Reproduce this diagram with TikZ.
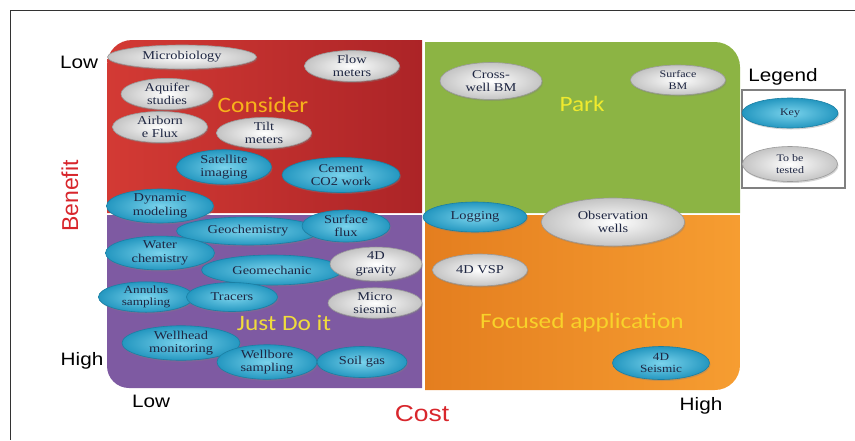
\documentclass[tikz,border=0pt]{standalone}
\usepackage{fontspec}
\usepackage{xcolor}
\usepackage{tikz}
\usetikzlibrary{shapes.geometric,shadows}
\setmainfont{Liberation Serif}
\newfontfamily\ovalfont[FakeStretch=1.2]{Liberation Serif}
\newfontfamily\axisfont[FakeStretch=1.15]{Liberation Sans}
\newfontfamily\axisplain{Liberation Sans}
\newfontfamily\zonefont[FakeStretch=1.15]{Carlito}
\definecolor{CD33A34}{HTML}{D33A34}
\definecolor{CAC2427}{HTML}{AC2427}
\definecolor{C8CB444}{HTML}{8CB444}
\definecolor{C7E5AA2}{HTML}{7E5AA2}
\definecolor{CE47E1F}{HTML}{E47E1F}
\definecolor{CF69D31}{HTML}{F69D31}
\definecolor{C7AD3EC}{HTML}{7AD3EC}
\definecolor{C2497C0}{HTML}{2497C0}
\definecolor{C1B7FA3}{HTML}{1B7FA3}
\definecolor{CFFFFFF}{HTML}{FFFFFF}
\definecolor{CC4C4C4}{HTML}{C4C4C4}
\definecolor{C9A9A9A}{HTML}{9A9A9A}
\definecolor{C1E2642}{HTML}{1E2642}
\definecolor{CF7B21B}{HTML}{F7B21B}
\definecolor{CEFEA2E}{HTML}{EFEA2E}
\definecolor{CF0DC3C}{HTML}{F0DC3C}
\definecolor{CF8D22A}{HTML}{F8D22A}
\definecolor{CD8262C}{HTML}{D8262C}
\definecolor{C808080}{HTML}{808080}
\definecolor{C333333}{HTML}{333333}

\begin{document}
\begin{tikzpicture}[inner sep=0pt,
  keyoval/.style={shape=ellipse, draw=C1B7FA3, line width=0.6pt, inner color=C7AD3EC, outer color=C2497C0,
    drop shadow={shadow xshift=1pt, shadow yshift=-1.5pt, opacity=0.35}, align=center, text=C1E2642,
    font=\ovalfont\fontsize{12}{13.5}\selectfont},
  testoval/.style={keyoval, draw=C9A9A9A, inner color=CFFFFFF, outer color=CC4C4C4},
  zone/.style={font=\zonefont\fontsize{22}{24}\selectfont},
  axis/.style={font=\axisfont\fontsize{18}{20}\selectfont, text=black}]
\useasboundingbox (0pt,0pt) rectangle (855pt,-440pt);
\draw [line width=1.0pt, C333333] (855pt,-10pt) -- (10pt,-10pt) -- (10pt,-440pt);

% quadrants
\shade [left color=CD33A34, right color=CAC2427] (107pt,-213pt) -- (107pt,-65pt) arc[start angle=180, end angle=90, radius=25pt] -- (422pt,-40pt) -- (422pt,-213pt) -- cycle;
\fill [C8CB444] (425pt,-213pt) -- (425pt,-42pt) -- (715pt,-42pt) arc[start angle=90, end angle=0, radius=25pt] -- (740pt,-213pt) -- cycle;
\fill [C7E5AA2] (422pt,-215pt) -- (107pt,-215pt) -- (107pt,-366pt) arc[start angle=180, end angle=270, radius=22pt] -- (422pt,-388pt) -- cycle;
\shade [left color=CE47E1F, right color=CF69D31] (425pt,-215pt) -- (740pt,-215pt) -- (740pt,-365pt) arc[start angle=0, end angle=-90, radius=25pt] -- (425pt,-390pt) -- cycle;

% axes and zone names
\node (lowb) [axis, at={(79pt,-62pt)}] {Low};
\node (highb) [axis, at={(82pt,-361pt)}] {High};
\node (lowc) [axis, at={(151pt,-401pt)}] {Low};
\node (highc) [axis, at={(701pt,-406pt)}] {High};
\node (cost) [axis, text=CD8262C, font=\axisfont\fontsize{23}{25}\selectfont, at={(422pt,-414pt)}] {Cost};
\node (benefit) [axis, text=CD8262C, font=\axisplain\fontsize{23}{25}\selectfont, rotate=90, at={(70pt,-196pt)}] {Benefit};
\node (consider) [zone, text=CF7B21B, at={(263pt,-105pt)}] {Consider};
\node (park) [zone, text=CEFEA2E, at={(582pt,-104pt)}] {Park};
\node (justdo) [zone, text=CF0DC3C, at={(284pt,-323pt)}] {Just Do it};
\node (focused) [zone, text=CF8D22A, at={(582pt,-323pt)}] {Focused application};

% legend
\node (legend) [axis, at={(783pt,-77pt)}] {Legend};
\draw [line width=1.5pt, C808080] (742pt,-90pt) rectangle (845pt,-188pt);
\node (key) [keyoval, minimum width=96pt, minimum height=30pt, font=\ovalfont\fontsize{10}{11}\selectfont, at={(790pt,-113pt)}] {Key};
\node (tobe) [testoval, minimum width=95pt, minimum height=35pt, font=\ovalfont\fontsize{10}{11.5}\selectfont, at={(790pt,-164pt)}] {To be\\tested};

% consider
\node (microbio) [testoval, minimum width=149pt, minimum height=24pt, at={(182pt,-57pt)}] {Microbiology};
\node (flow) [testoval, minimum width=95pt, minimum height=30pt, at={(352pt,-66pt)}] {Flow\\meters};
\node (aquifer) [testoval, minimum width=92pt, minimum height=30pt, at={(167pt,-94pt)}] {Aquifer\\studies};
\node (airborne) [testoval, minimum width=95pt, minimum height=30pt, at={(160pt,-127pt)}] {Airborn\\e Flux};
\node (tilt) [testoval, minimum width=95pt, minimum height=30pt, at={(264pt,-133pt)}] {Tilt\\meters};
\node (satellite) [keyoval, minimum width=95pt, minimum height=30pt, at={(224pt,-167pt)}] {Satellite\\imaging};
\node (cement) [keyoval, minimum width=118pt, minimum height=35pt, at={(341pt,-175pt)}] {Cement\\CO2 work};

% park
\node (crosswell) [testoval, minimum width=102pt, minimum height=37pt, at={(491pt,-81pt)}] {Cross-\\well BM};
\node (surfbm) [testoval, minimum width=95pt, minimum height=30pt, font=\ovalfont\fontsize{10}{11.5}\selectfont, at={(678pt,-80pt)}] {Surface\\BM};

% just do it
\node (dynamic) [keyoval, minimum width=107pt, minimum height=34pt, at={(160pt,-206pt)}] {Dynamic\\modeling};
\node (geochem) [keyoval, minimum width=143pt, minimum height=28pt, at={(248pt,-231pt)}] {Geochemistry};
\node (surfflux) [keyoval, minimum width=88pt, minimum height=32pt, at={(346pt,-226pt)}] {Surface\\flux};
\node (water) [keyoval, minimum width=109pt, minimum height=33pt, at={(160pt,-253pt)}] {Water\\chemistry};
\node (geomech) [keyoval, minimum width=141pt, minimum height=30pt, at={(272pt,-270pt)}] {Geomechanic};
\node (gravity) [testoval, minimum width=92pt, minimum height=32pt, at={(376pt,-264pt)}] {4D\\gravity};
\node (annulus) [keyoval, minimum width=95pt, minimum height=27pt, font=\ovalfont\fontsize{11}{11.5}\selectfont, at={(146pt,-297pt)}] {Annulus\\sampling};
\node (tracers) [keyoval, minimum width=91pt, minimum height=29pt, at={(232pt,-297pt)}] {Tracers};
\node (microseis) [testoval, minimum width=94pt, minimum height=30pt, at={(375pt,-303pt)}] {Micro\\siesmic};
\node (wellhead) [keyoval, minimum width=118pt, minimum height=31pt, at={(181pt,-343pt)}] {Wellhead\\monitoring};
\node (wellbore) [keyoval, minimum width=100pt, minimum height=30pt, at={(267pt,-362pt)}] {Wellbore\\sampling};
\node (soilgas) [keyoval, minimum width=90pt, minimum height=31pt, at={(362pt,-362pt)}] {Soil gas};

% focused application
\node (logging) [keyoval, minimum width=104pt, minimum height=30pt, at={(475pt,-217pt)}] {Logging};
\node (obswells) [testoval, minimum width=143pt, minimum height=48pt, at={(613pt,-222pt)}] {Observation\\wells};
\node (vsp) [testoval, minimum width=95pt, minimum height=32pt, at={(480pt,-270pt)}] {4D VSP};
\node (seismic) [keyoval, minimum width=97pt, minimum height=33pt, font=\ovalfont\fontsize{11}{12}\selectfont, at={(661pt,-363pt)}] {4D\\Seismic};
\end{tikzpicture}
\end{document}
